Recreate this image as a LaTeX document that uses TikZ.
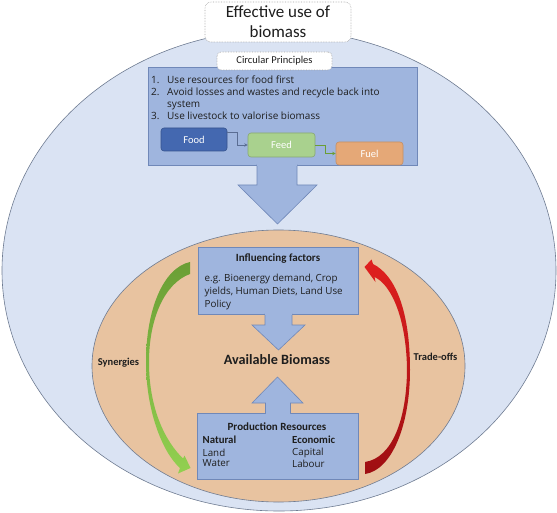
\documentclass[tikz,border=0pt]{standalone}
\usepackage{fontspec}
\setmainfont{Carlito}
\newfontfamily\bodyfont{Open Sans}
\usetikzlibrary{calc,arrows.meta}
\definecolor{outerbg}{HTML}{DAE3F3}
\definecolor{tanbg}{HTML}{E8C3A0}
\definecolor{boxblue}{HTML}{9FB5DE}
\definecolor{boxedge}{HTML}{7088B8}
\definecolor{foodblue}{HTML}{4468B0}
\definecolor{feedgreen}{HTML}{A9D18E}
\definecolor{fuelorange}{HTML}{E5A877}
\definecolor{linegray}{HTML}{6F7C92}
\definecolor{txt}{HTML}{1E1E1E}
\definecolor{greenA}{HTML}{6A9E35}
\definecolor{greenB}{HTML}{92D050}
\definecolor{redA}{HTML}{E0201F}
\definecolor{redB}{HTML}{9E0E12}
\tikzset{
  bluebox/.style={draw=boxedge, fill=boxblue, line width=0.6pt, inner sep=0pt},
  labelbox/.style={draw=gray!70, densely dotted, fill=white, rounded corners=4pt, inner sep=0pt, line width=0.6pt},
  fbox/.style={rounded corners=3pt, inner sep=0pt, minimum width=66pt, minimum height=23pt, text=white, font=\fontsize{10.5}{12}\selectfont, line width=0.6pt},
  blockarrow/.style={draw=boxedge, fill=boxblue, line width=0.6pt},
  bodytext/.style={text=txt, font=\bodyfont\fontsize{9.8}{12.5}\selectfont, inner sep=0pt, align=left},
  headtext/.style={text=txt, font=\bfseries\fontsize{11}{13}\selectfont, inner sep=0pt},
  sidetext/.style={text=txt, font=\bfseries\fontsize{10.5}{12}\selectfont, inner sep=0pt},
  elbow/.style={line width=0.5pt, -{Stealth[length=3.5pt,width=3.5pt]}}
}
\begin{document}
\begin{tikzpicture}[x=1pt,y=-1pt]
\useasboundingbox (0,0) rectangle (557,513);
% outer ellipse
\draw[draw=linegray, fill=outerbg, line width=0.6pt] (279,270.5) ellipse [x radius=277, y radius=240.5];
% inner ellipse
\draw[draw=linegray, fill=tanbg, line width=0.6pt] (278.5,366) ellipse [x radius=186.5, y radius=136];

% principles box
\node[bluebox, minimum width=269pt, minimum height=98pt] (princ) at (282.5,116) {};
\node[bodytext, anchor=west, font=\bodyfont\fontsize{10}{12}\selectfont] (list) at (151,99.5) {\begin{tabular}{@{}p{16pt}@{}l@{}}1.&Use resources for food first\\2.&Avoid losses and wastes and recycle back into\\&system\\3.&Use livestock to valorise biomass\end{tabular}};
\node[labelbox, minimum width=115pt, minimum height=18pt, font=\fontsize{10.5}{12}\selectfont, text=txt] (circ) at (274.5,61) {Circular Principles};

% food feed fuel
\node[fbox, draw=foodblue!80!black, fill=foodblue] (food) at (194,139.5) {Food};
\node[fbox, draw=feedgreen!80!black, fill=feedgreen, minimum width=67pt, minimum height=24pt] (feed) at (281.5,145) {Feed};
\node[fbox, draw=fuelorange!85!black, fill=fuelorange, minimum width=67pt] (fuel) at (369.5,153.5) {Fuel};
\draw[elbow, draw=boxedge!80!black] ($(food.east)+(0,-7.5)$) -- ++(10,0) |- (feed.west);
\draw[elbow, draw=greenA] ($(feed.east)+(0,0)$) -- ++(10,0) |- (fuel.west);

% big down arrow
\path[blockarrow] (257,164.5) -- (257,185) -- (238,185) -- (277.5,224) -- (317,185) -- (297,185) -- (297,164.5);
\fill[boxblue] (257.3,163) rectangle (296.7,166);

% title
\node[labelbox, rounded corners=6pt, minimum width=146pt, minimum height=40pt, align=center, text=txt, font=\fontsize{17}{20}\selectfont] (title) at (278,22) {Effective use of\\biomass};

% influencing factors
\node[bluebox, minimum width=160pt, minimum height=67pt] (infl) at (278,280.5) {};
\node[headtext] (inflh) at (278,259) {Influencing factors};
\node[bodytext, anchor=west, font=\bodyfont\fontsize{9.8}{13}\selectfont] (inflb) at (204.5,292) {e.g. Bioenergy demand, Crop\\yields, Human Diets, Land Use\\Policy};

% down arrow 2
\path[blockarrow] (265,313.5) -- (265,325) -- (252,325) -- (278.5,350) -- (305,325) -- (292,325) -- (292,313.5);
\fill[boxblue] (265.3,312.5) rectangle (291.7,315);

% available biomass
\node[text=txt, font=\bfseries\fontsize{14.2}{16}\selectfont, inner sep=0pt] (avail) at (277,359.5) {Available Biomass};

% production box
\node[bluebox, minimum width=161pt, minimum height=66pt] (prod) at (277.8,446.3) {};
% up arrow
\path[blockarrow] (265.5,413.5) -- (265.5,403) -- (252,403) -- (277.5,377) -- (303,403) -- (290.5,403) -- (290.5,413.5);
\fill[boxblue] (265.8,412) rectangle (290.2,414.5);
\node[headtext] (prodh) at (277,427) {Production Resources};
\node[headtext, anchor=west, font=\bfseries\fontsize{10.8}{12}\selectfont] (nat) at (202.5,440) {Natural};
\node[headtext, anchor=west, font=\bfseries\fontsize{10.8}{12}\selectfont] (eco) at (292,440) {Economic};
\node[bodytext, anchor=west] (land) at (202.5,452.5) {Land};
\node[bodytext, anchor=west] (water) at (202.5,463.5) {Water};
\node[bodytext, anchor=west] (cap) at (292,452.5) {Capital};
\node[bodytext, anchor=west] (lab) at (292,463.5) {Labour};

% green curved arrow (synergies)
\shade[top color=greenA, bottom color=greenB]
  (190,262) .. controls (163,268) and (146,310) .. (146,362)
  .. controls (146,410) and (162,452) .. (180,468)
  -- (178,473.5) -- (190.5,468) -- (184.5,455.5) -- (183,458.5)
  .. controls (166,442) and (149,410) .. (149,362)
  .. controls (149,318) and (165,283) .. (190,274) -- cycle;
% red curved arrow (trade-offs)
\shade[top color=redA, bottom color=redB]
  (365,474) .. controls (392,470) and (410,425) .. (410,370)
  .. controls (410,310) and (395,275) .. (373,264)
  -- (371.5,259.5) -- (364.5,267) -- (375.5,282) -- (374.5,277)
  .. controls (392,285) and (406.5,320) .. (407,370)
  .. controls (406.5,420) and (392,458) .. (365,462) -- cycle;

\node[sidetext] (syn) at (118.5,363) {Synergies};
\node[sidetext] (trade) at (435.5,357) {Trade-offs};
\end{tikzpicture}
\end{document}
